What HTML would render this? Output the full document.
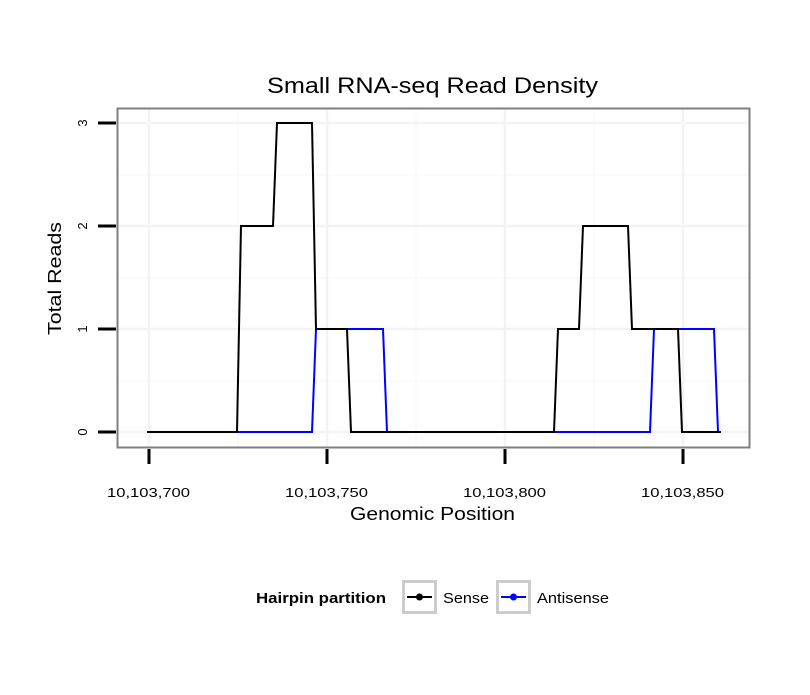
<!DOCTYPE html>
<html><head><style>body{margin:0;background:#fff}</style></head><body>
<svg width="810" height="690" xmlns="http://www.w3.org/2000/svg" font-family="Liberation Sans, sans-serif">
<rect width="810" height="690" fill="#fff"/>
<g stroke="#f7f7f7" stroke-width="1">
<line x1="238" y1="109" x2="238" y2="447"/><line x1="416" y1="109" x2="416" y2="447"/><line x1="594" y1="109" x2="594" y2="447"/>
<line x1="118" y1="175" x2="749" y2="175"/><line x1="118" y1="278" x2="749" y2="278"/><line x1="118" y1="381" x2="749" y2="381"/>
</g>
<g stroke="#f3f3f3" stroke-width="2.5">
<line x1="149" y1="109" x2="149" y2="447"/><line x1="327" y1="109" x2="327" y2="447"/><line x1="505" y1="109" x2="505" y2="447"/><line x1="683" y1="109" x2="683" y2="447"/>
<line x1="118" y1="123" x2="749" y2="123"/><line x1="118" y1="226" x2="749" y2="226"/><line x1="118" y1="329" x2="749" y2="329"/><line x1="118" y1="432" x2="749" y2="432"/>
</g>
<polyline fill="none" stroke="#0000ff" stroke-width="2" points="237,432 312,432 316,329 383,329 387,432 650,432 654,329 714,329 718,432 720,432"/>
<polyline fill="none" stroke="#000" stroke-width="2" points="147,432 237,432 241,226 273,226 277,123 312,123 316,329 347,329 351,432 554,432 558,329 579,329 583,226 628,226 632,329 678,329 682,432 721,432"/>
<rect x="117.5" y="108.5" width="632" height="339" fill="none" stroke="#7f7f7f" stroke-width="2"/>
<g stroke="#000" stroke-width="3">
<line x1="149" y1="449" x2="149" y2="464"/><line x1="327" y1="449" x2="327" y2="464"/><line x1="505" y1="449" x2="505" y2="464"/><line x1="683" y1="449" x2="683" y2="464"/>
<line x1="98" y1="123" x2="116" y2="123"/><line x1="98" y1="226" x2="116" y2="226"/><line x1="98" y1="329" x2="116" y2="329"/><line x1="98" y1="432" x2="116" y2="432"/>
</g>
<g font-size="13" fill="#000" lengthAdjust="spacingAndGlyphs">
<text x="107" y="497" textLength="83" lengthAdjust="spacingAndGlyphs">10,103,700</text>
<text x="285" y="497" textLength="83" lengthAdjust="spacingAndGlyphs">10,103,750</text>
<text x="463" y="497" textLength="83" lengthAdjust="spacingAndGlyphs">10,103,800</text>
<text x="641" y="497" textLength="83" lengthAdjust="spacingAndGlyphs">10,103,850</text>
</g>
<g font-size="13" text-anchor="middle">
<text transform="translate(87,123) rotate(-90)">3</text><text transform="translate(87,226) rotate(-90)">2</text><text transform="translate(87,329) rotate(-90)">1</text><text transform="translate(87,432) rotate(-90)">0</text>
</g>
<text x="267" y="93" font-size="22" textLength="331" lengthAdjust="spacingAndGlyphs">Small RNA-seq Read Density</text>
<text x="350" y="520" font-size="18" textLength="165" lengthAdjust="spacingAndGlyphs">Genomic Position</text>
<text transform="translate(61,335) rotate(-90)" font-size="18" textLength="113" lengthAdjust="spacingAndGlyphs">Total Reads</text>
<text x="256" y="603" font-size="15" font-weight="bold" textLength="130" lengthAdjust="spacingAndGlyphs">Hairpin partition</text>
<rect x="403.5" y="581.5" width="32" height="31" fill="#fff" stroke="#cccccc" stroke-width="3"/>
<line x1="407" y1="597" x2="432" y2="597" stroke="#000" stroke-width="2"/><circle cx="419.5" cy="597" r="3.5" fill="#000"/>
<text x="443" y="603" font-size="15" textLength="46" lengthAdjust="spacingAndGlyphs">Sense</text>
<rect x="497.5" y="581.5" width="32" height="31" fill="#fff" stroke="#cccccc" stroke-width="3"/>
<line x1="501" y1="597" x2="526" y2="597" stroke="#0000ff" stroke-width="2"/><circle cx="513.5" cy="597" r="3.5" fill="#0000ff"/>
<text x="537" y="603" font-size="15" textLength="72" lengthAdjust="spacingAndGlyphs">Antisense</text>
</svg>
</body></html>
